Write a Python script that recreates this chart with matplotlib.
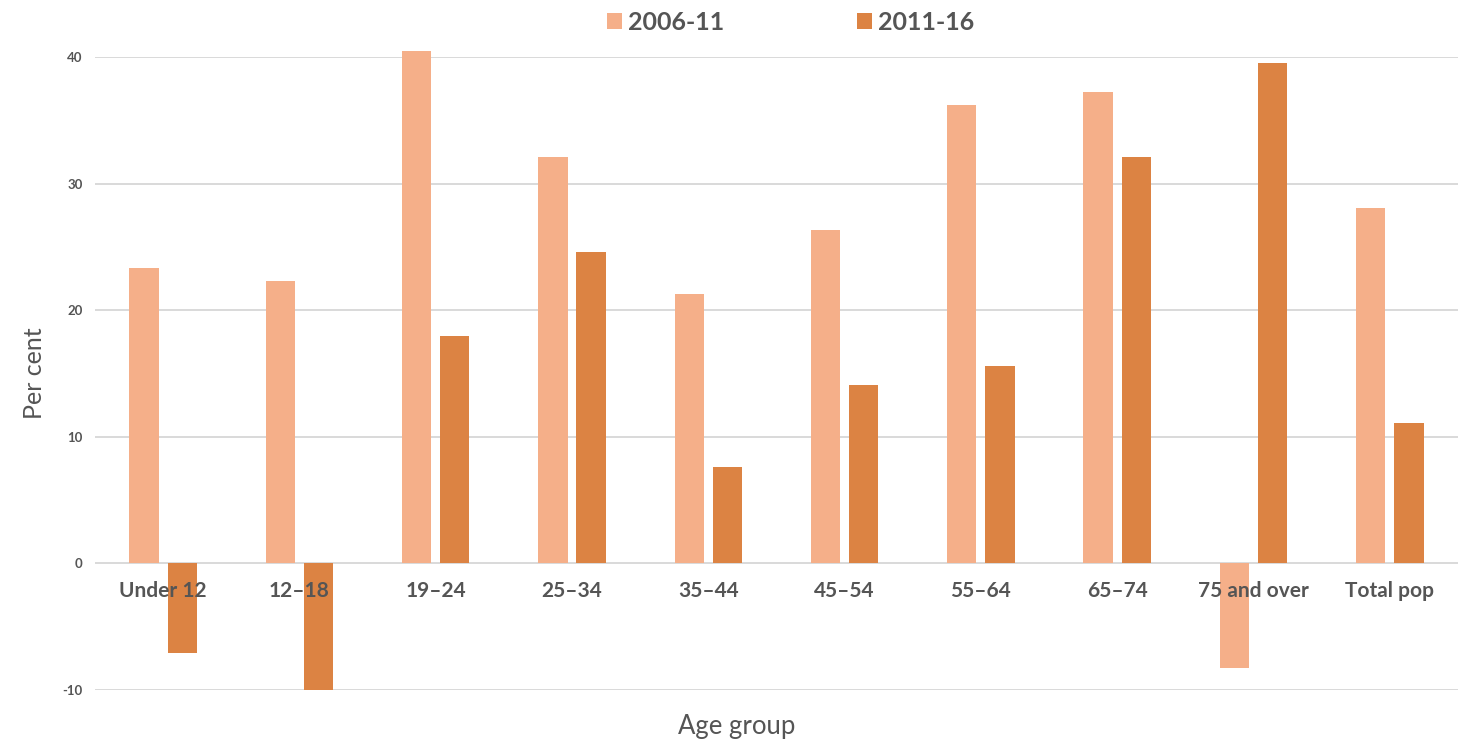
import matplotlib
matplotlib.use("Agg")
import matplotlib.pyplot as plt
import numpy as np

# Population change by age group, per cent
age_groups = ["Under 12", "12–18", "19–24", "25–34", "35–44", "45–54",
              "55–64", "65–74", "75 and over", "Total pop"]
change_2006_11 = [23.3, 22.3, 40.5, 32.1, 21.3, 26.3, 36.2, 37.2, -8.3, 28.1]
change_2011_16 = [-7.1, -10.0, 18.0, 24.6, 7.6, 14.1, 15.6, 32.1, 39.5, 11.1]
series_names = ["2006-11", "2011-16"]
y_ticks = [-10, 0, 10, 20, 30, 40]

light = "#F5AF89"
dark = "#DC8343"
text_col = "#555555"

plt.rcParams["font.family"] = ["Lato", "DejaVu Sans"]

fig = plt.figure(figsize=(14.66, 7.44), dpi=100)
ax = fig.add_axes([0.0648, 0.0726, 0.9297, 0.8508])

x = np.arange(len(age_groups))
w = 0.215
off = 0.14
b1 = ax.bar(x - off, change_2006_11, width=w, color=light, label=series_names[0],
            clip_on=False, zorder=3)
b2 = ax.bar(x + off, change_2011_16, width=w, color=dark, label=series_names[1],
            clip_on=False, zorder=3)

ax.set_xlim(-0.5, len(age_groups) - 0.5)
ax.set_ylim(-10, 40)
ax.set_yticks(y_ticks)
ax.set_yticklabels([str(t) for t in y_ticks], fontsize=9.5, fontweight="bold",
                   color=text_col)
ax.yaxis.grid(True, color="#D9D9D9", linewidth=1.4)
ax.set_axisbelow(True)

# category labels hang just below the zero line, drawn over the bars
ax.spines["bottom"].set_position(("data", 0))
ax.set_xticks(x)
ax.set_xticklabels(age_groups, fontsize=15, fontweight="bold", color=text_col)
ax.tick_params(axis="x", length=0, pad=13)
ax.tick_params(axis="y", length=0, pad=9)
ax.xaxis.set_zorder(5)

for s in ax.spines.values():
    s.set_visible(False)

ax.set_ylabel("Per cent", fontsize=18, color=text_col, labelpad=12)
fig.text(0.5026, 0.023, "Age group", fontsize=18.5, color=text_col,
         ha="center", va="center")

leg = fig.legend(handles=[b1, b2], labels=series_names, loc="center",
                 bbox_to_anchor=(0.5395, 0.970), ncol=2, frameon=False,
                 fontsize=18, handlelength=0.6, handleheight=0.6,
                 handletextpad=0.25, columnspacing=5.3)
for t in leg.get_texts():
    t.set_fontweight("bold")
    t.set_color(text_col)

fig.savefig("out.png", dpi=100, facecolor="white")
